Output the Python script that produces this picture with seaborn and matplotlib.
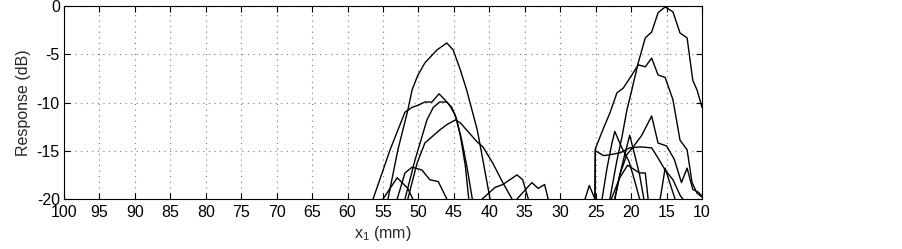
import pandas as pd
import matplotlib
matplotlib.use("Agg")
import matplotlib.pyplot as plt
import seaborn as sns

# -----------------------------
# traces (x1 in mm, response in dB)
# -----------------------------
a_x = [54.3, 52.9, 51.5, 50.9, 50.1, 49.1, 47.4, 46.0, 45.1, 44.1, 43.2, 41.7, 40.9, 39.9]
a_y = [-20, -14.9, -10.8, -8.7, -7.2, -5.9, -4.56, -3.83, -4.56, -6.6, -8.7, -12.85, -16.0, -20]

b_x = [56.4, 54.0, 51.9, 50.9, 50.1, 49.1, 48.1, 47.1, 46.3, 45.6, 44.8, 44.1, 43.4, 42.9]
b_y = [-20, -14.9, -11.0, -10.5, -10.3, -9.95, -9.95, -9.1, -9.7, -10.3, -11.3, -13.4, -16.5, -20]

c_x = [51.9, 50.5, 48.8, 47.9, 47.0, 46.0, 45.3, 44.6, 43.9, 43.2, 42.4]
c_y = [-20, -16.0, -11.8, -10.5, -9.95, -9.95, -10.5, -11.8, -13.9, -16.5, -20]

d_x = [51.5, 50.2, 49.1, 47.0, 46.0, 44.8, 44.1, 41.7, 40.9, 39.5, 38.1, 36.8]
d_y = [-20, -16.3, -14.2, -12.85, -12.3, -11.8, -12.1, -14.1, -14.6, -16.3, -18.3, -20]

e_x = [53.0, 51.9, 50.9, 49.5, 48.4, 47.2, 46.0]
e_y = [-20, -17.3, -16.7, -17.0, -18.0, -18.2, -20]

f_x = [55.0, 53.0, 51.5, 50.8]
f_y = [-20, -17.8, -18.9, -20]

g_x = [41.0, 39.2, 38.1, 36.1, 35.3, 34.5]
g_y = [-20, -18.8, -18.5, -17.5, -18.0, -20]

h_x = [36.1, 34.0, 33.1, 32.2, 31.7]
h_y = [-20, -18.3, -18.9, -18.5, -20]

r1_x = [23.0, 22.0, 21.3, 20.6, 19.9, 19.0, 18.0, 17.1, 16.2, 15.2, 14.1, 13.1, 12.1, 11.3, 10.7, 10.0]
r1_y = [-20, -16.0, -13.6, -10.8, -8.7, -5.9, -3.3, -2.7, -0.7, -0.1, -0.6, -2.8, -3.3, -7.7, -8.7, -10.5]

r2_x = [26.5, 25.9, 25.1, 25.05, 24.0, 23.0, 22.0, 21.1, 19.9, 19.0, 18.0, 17.1, 16.2, 15.2,
        14.1, 13.1, 12.1, 11.4, 10.7, 10.0]
r2_y = [-20, -18.6, -20, -14.8, -12.85, -11.1, -9.0, -8.5, -7.15, -6.1, -6.3, -5.4, -7.15, -7.4,
        -9.7, -13.9, -14.9, -18.3, -19.4, -19.8]

r3_x = [22.3, 21.6, 20.6, 19.7, 18.5, 17.1, 16.2, 15.0, 13.9, 12.9, 12.1, 11.3, 10.5, 10.0]
r3_y = [-20, -17.5, -15.4, -14.6, -13.4, -11.4, -14.2, -14.5, -15.9, -18.3, -16.8, -19.0, -19.3, -19.7]

r4_x = [25.1, 25.05, 23.9, 22.9, 21.5, 20.2, 18.7, 17.1, 16.2, 15.2, 14.1, 13.1, 12.7]
r4_y = [-20, -15.0, -15.5, -15.4, -15.2, -14.7, -14.6, -14.7, -15.75, -17.0, -18.0, -19.6, -20]

r5_x = [24.1, 23.4, 22.7, 22.3, 21.3, 20.3, 19.5, 18.8]
r5_y = [-20, -16.8, -14.2, -13.0, -14.7, -16.1, -18.1, -20]

r6_x = [22.3, 21.6, 20.9, 20.2, 19.5, 18.8, 18.2]
r6_y = [-20, -17.5, -15.4, -13.4, -15.4, -17.5, -20]

r7_x = [22.8, 21.6, 20.5, 18.8, 18.0, 17.6]
r7_y = [-20, -17.8, -16.5, -17.3, -17.3, -20]

r8_x = [15.9, 15.2, 14.2, 13.8]
r8_y = [-20, -16.8, -19.1, -20]

x_ticks = list(range(100, 9, -5))
y_ticks = [0, -5, -10, -15, -20]

traces = {
    "a": (a_x, a_y), "b": (b_x, b_y), "c": (c_x, c_y), "d": (d_x, d_y),
    "e": (e_x, e_y), "f": (f_x, f_y), "g": (g_x, g_y), "h": (h_x, h_y),
    "r1": (r1_x, r1_y), "r2": (r2_x, r2_y), "r3": (r3_x, r3_y), "r4": (r4_x, r4_y),
    "r5": (r5_x, r5_y), "r6": (r6_x, r6_y), "r7": (r7_x, r7_y), "r8": (r8_x, r8_y),
}

rows = []
for name, (xs, ys) in traces.items():
    for i, (xv, yv) in enumerate(zip(xs, ys)):
        rows.append({"trace": name, "order": i, "x1": xv, "resp": yv})
df = pd.DataFrame(rows)

sns.set_style("ticks")
plt.rcParams["font.family"] = ["Liberation Sans", "DejaVu Sans"]
plt.rcParams["axes.unicode_minus"] = False

fig = plt.figure(figsize=(9.03, 2.49), dpi=100)
ax = fig.add_axes([0.0709, 0.2008, 0.7065, 0.7751])

sns.lineplot(data=df, x="x1", y="resp", units="trace", estimator=None, sort=False,
             color="black", linewidth=1.0, ax=ax, legend=False)

ax.set_xlim(100, 10)
ax.set_ylim(-20, 0)
ax.set_xticks(x_ticks)
ax.set_yticks(y_ticks)
ax.tick_params(direction="in", length=4, width=0.8, top=True, right=True,
               labelsize=11.5, colors="black")
ax.tick_params(axis="x", pad=4)
ax.tick_params(axis="y", pad=3)
ax.grid(True, linestyle=(0, (1, 4)), color="#777777", linewidth=0.8)
for s in ax.spines.values():
    s.set_linewidth(0.8)
    s.set_color("black")

ax.set_xlabel(r"x$_{\mathregular{1}}$ (mm)", fontsize=11.5, labelpad=3)
ax.set_ylabel("Response (dB)", fontsize=11.5, labelpad=4)

fig.savefig("out.png", dpi=100)
